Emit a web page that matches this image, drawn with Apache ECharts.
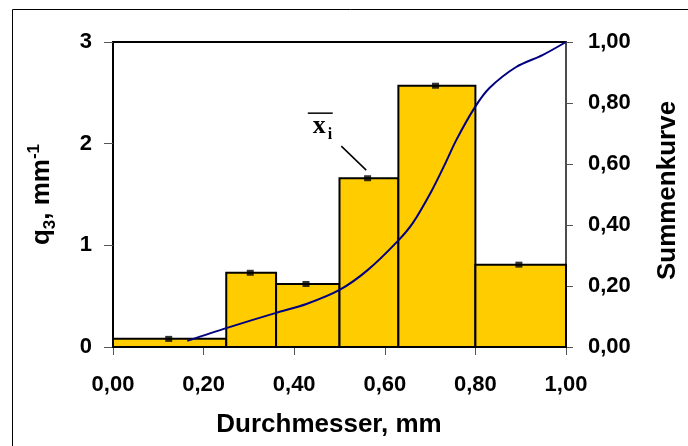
<!DOCTYPE html>
<html>
<head>
<meta charset="utf-8">
<script src="https://cdn.jsdelivr.net/npm/echarts@6/dist/echarts.min.js"></script>
<style>
html,body{margin:0;padding:0;background:#fff;}
#chart{width:688px;height:446px;}
</style>
</head>
<body>
<div id="chart"></div>
<script>
// Histogram classes (Durchmesser, mm)
const binEdges = [0.00, 0.25, 0.36, 0.50, 0.63, 0.80, 1.00];
// q3 density values (mm^-1)
const q3Values = [0.08, 0.73, 0.62, 1.66, 2.57, 0.81];
// class mean diameters (x̄i)
const classMeans = [0.123, 0.303, 0.426, 0.562, 0.712, 0.896];
// cumulative curve (Summenkurve)
const cumX = [0.164, 0.25, 0.36, 0.427, 0.50, 0.562, 0.629, 0.662, 0.703, 0.732, 0.758, 0.798, 0.831, 0.89, 0.948, 1.00];
const cumY = [0.02, 0.062, 0.112, 0.141, 0.187, 0.252, 0.348, 0.407, 0.511, 0.597, 0.679, 0.784, 0.849, 0.918, 0.957, 1.00];
// tick settings
const xTicks = {min: 0, max: 1, interval: 0.2};
const yLeftTicks = {min: 0, max: 3, interval: 1};
const yRightTicks = {min: 0, max: 1, interval: 0.2};
// annotation anchor (data coords of left axis)
const annotOverline = [[0.430, 2.30], [0.485, 2.30]];
const annotX = [0.441, 2.168];
const annotI = [0.474, 2.090];
const annotLeader = [[0.504, 1.976], [0.559, 1.74]];

const fmt2 = v => v.toFixed(2).replace('.', ',');
const sans = 'Liberation Sans, Arial, sans-serif';
const serif = 'Liberation Serif, Times New Roman, serif';

const barData = q3Values.map((v, i) => [binEdges[i], binEdges[i + 1], v]);
const meanData = classMeans.map((m, i) => [m, q3Values[i]]);
const cumData = cumX.map((x, i) => [x, cumY[i]]);

const chart = echarts.init(document.getElementById('chart'), null, {renderer: 'canvas'});

const labelStyle = {color: '#000', fontSize: 22, fontWeight: 'bold', fontFamily: sans};

const option = {
  animation: false,
  backgroundColor: '#fff',
  grid: {left: 113, right: 122, top: 42, bottom: 99, show: true, borderColor: '#000', borderWidth: 2, backgroundColor: 'transparent'},
  xAxis: {
    type: 'value', min: xTicks.min, max: xTicks.max, interval: xTicks.interval,
    axisLine: {show: true, onZero: false, lineStyle: {color: '#000', width: 2}},
    axisTick: {show: true, inside: false, length: 8, lineStyle: {color: '#555', width: 1}},
    axisLabel: Object.assign({margin: 27, formatter: fmt2}, labelStyle),
    splitLine: {show: false}
  },
  yAxis: [{
    type: 'value', min: yLeftTicks.min, max: yLeftTicks.max, interval: yLeftTicks.interval,
    axisLine: {show: true, onZero: false, lineStyle: {color: '#000', width: 2}},
    axisTick: {show: true, inside: false, length: 9, lineStyle: {color: '#555', width: 1}},
    axisLabel: Object.assign({margin: 21, formatter: v => String(Math.round(v))}, labelStyle),
    splitLine: {show: false}
  }, {
    type: 'value', position: 'right', min: yRightTicks.min, max: yRightTicks.max, interval: yRightTicks.interval,
    axisLine: {show: true, onZero: false, lineStyle: {color: '#666', width: 1.5}},
    axisTick: {show: true, inside: false, length: 7, lineStyle: {color: '#555', width: 1}},
    axisLabel: Object.assign({margin: 22, formatter: fmt2}, labelStyle),
    splitLine: {show: false}
  }],
  series: [{
    type: 'custom',
    name: 'q3',
    xAxisIndex: 0, yAxisIndex: 0,
    data: barData,
    encode: {x: [0, 1], y: 2},
    renderItem: function (params, api) {
      const p0 = api.coord([api.value(0), api.value(2)]);
      const p1 = api.coord([api.value(1), 0]);
      return {
        type: 'rect',
        shape: {x: p0[0], y: p0[1], width: p1[0] - p0[0], height: p1[1] - p0[1]},
        style: {fill: '#FFCC00', stroke: '#000', lineWidth: 2}
      };
    },
    z: 2
  }, {
    type: 'line',
    name: 'Summenkurve',
    xAxisIndex: 0, yAxisIndex: 1,
    data: cumData,
    smooth: 0.3,
    showSymbol: false,
    symbol: 'none',
    lineStyle: {color: '#000080', width: 2},
    z: 3
  }, {
    type: 'scatter',
    name: 'xi',
    xAxisIndex: 0, yAxisIndex: 0,
    data: meanData,
    symbol: 'rect',
    symbolSize: [7, 6],
    itemStyle: {color: '#000'},
    z: 4
  }],
  graphic: []
};

chart.setOption(option);

function px(p) { return chart.convertToPixel({xAxisIndex: 0, yAxisIndex: 0}, p); }

const o0 = px(annotOverline[0]), o1 = px(annotOverline[1]);
const tx = px(annotX), ti = px(annotI);
const l0 = px(annotLeader[0]), l1 = px(annotLeader[1]);
const gridTop = 42, gridBottom = 446 - 99;
const midY = (gridTop + gridBottom) / 2;

chart.setOption({
  graphic: [
    {type: 'rect', shape: {x: 12.5, y: 9.5, width: 800, height: 600}, style: {fill: 'none', stroke: '#000', lineWidth: 1}, silent: true, z: 0},
    {type: 'line', shape: {x1: o0[0], y1: o0[1], x2: o1[0], y2: o1[1]}, style: {stroke: '#000', lineWidth: 1.5}, z: 10},
    {type: 'text', x: tx[0], y: tx[1], style: {text: 'x', font: 'bold 26px ' + serif, fill: '#000', align: 'left', verticalAlign: 'middle'}, z: 10},
    {type: 'text', x: ti[0], y: ti[1], style: {text: 'i', font: 'bold 16px ' + serif, fill: '#000', align: 'left', verticalAlign: 'middle'}, z: 10},
    {type: 'line', shape: {x1: l0[0], y1: l0[1], x2: l1[0], y2: l1[1]}, style: {stroke: '#000', lineWidth: 1.5}, z: 10},
    {type: 'text', x: 329, y: 425, style: {text: 'Durchmesser, mm', font: 'bold 26px ' + sans, fill: '#000', align: 'center', verticalAlign: 'middle'}, z: 10},
    {type: 'text', x: 668, y: midY - 4, rotation: Math.PI / 2, style: {text: 'Summenkurve', font: 'bold 26px ' + sans, fill: '#000', align: 'center', verticalAlign: 'middle'}, z: 10},
    {type: 'text', x: 40, y: midY, rotation: Math.PI / 2, style: {
      text: '{a|q}{s|3}{a|, mm}{p|-1}',
      align: 'center', verticalAlign: 'middle',
      rich: {
        a: {font: 'bold 26px ' + sans, fill: '#000', color: '#000', verticalAlign: 'bottom'},
        s: {font: 'bold 17px ' + sans, fill: '#000', color: '#000', padding: [0, 0, -4, 0], verticalAlign: 'bottom'},
        p: {font: 'bold 17px ' + sans, fill: '#000', color: '#000', padding: [0, 0, 12, 0], verticalAlign: 'bottom'}
      }
    }, z: 10}
  ]
});
</script>
</body>
</html>
